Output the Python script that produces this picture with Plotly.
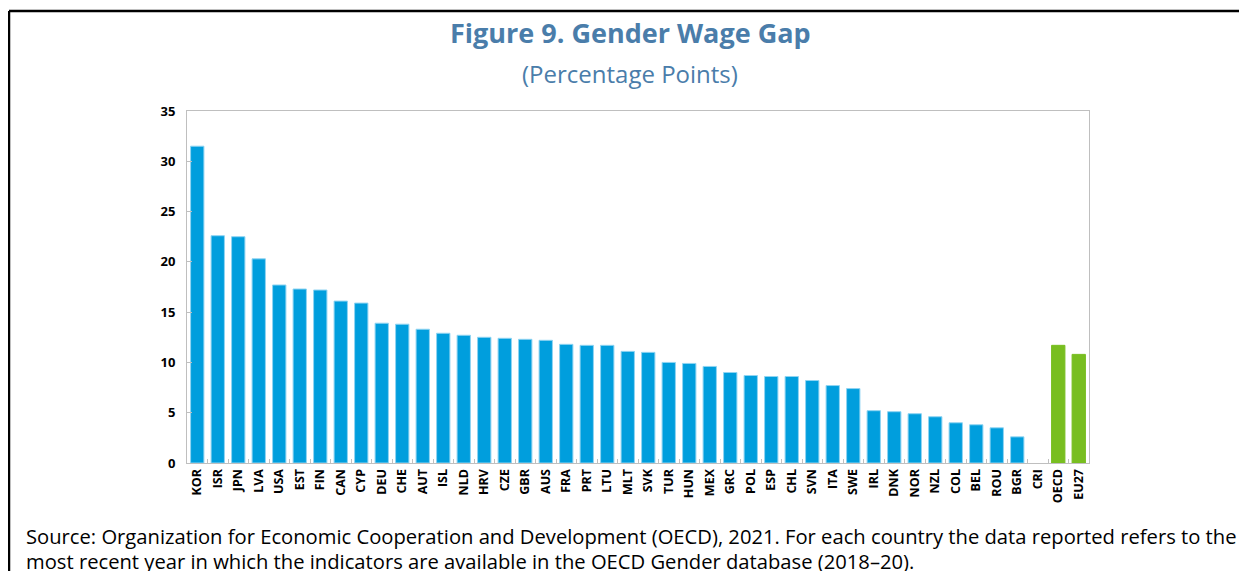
import plotly.graph_objects as go

# Datos (brecha salarial de género, puntos porcentuales)
countries = ["KOR", "ISR", "JPN", "LVA", "USA", "EST", "FIN", "CAN", "CYP", "DEU",
             "CHE", "AUT", "ISL", "NLD", "HRV", "CZE", "GBR", "AUS", "FRA", "PRT",
             "LTU", "MLT", "SVK", "TUR", "HUN", "MEX", "GRC", "POL", "ESP", "CHL",
             "SVN", "ITA", "SWE", "IRL", "DNK", "NOR", "NZL", "COL", "BEL", "ROU",
             "BGR", "CRI", "OECD", "EU27"]
wage_gap = [31.5, 22.6, 22.5, 20.3, 17.7, 17.3, 17.2, 16.1, 15.9, 13.9,
            13.8, 13.3, 12.9, 12.7, 12.5, 12.4, 12.3, 12.2, 11.8, 11.7,
            11.7, 11.1, 11.0, 10.0, 9.9, 9.6, 9.0, 8.7, 8.6, 8.6,
            8.2, 7.7, 7.4, 5.2, 5.1, 4.9, 4.6, 4.0, 3.8, 3.5,
            2.6, None, 11.7, 10.8]
aggregates = ["OECD", "EU27"]

y_ticks = [0, 5, 10, 15, 20, 25, 30, 35]

title = "Figure 9. Gender Wage Gap"
subtitle = "(Percentage Points)"
source_1 = ("Source: Organization for Economic Cooperation and Development (OECD), 2021. "
            "For each country the data reported refers to the")
source_2 = ("most recent year in which the indicators are available in the OECD Gender "
            "database (2018–20).")

BLUE = "#009EDD"
GREEN = "#78BE20"
TITLE_COLOR = "#4A7DAA"
FONT = "Open Sans"

colors = [GREEN if c in aggregates else BLUE for c in countries]
edges = ["#8FD4F2" if c not in aggregates else GREEN for c in countries]

fig = go.Figure(go.Bar(
    x=countries,
    y=wage_gap,
    marker=dict(color=colors, line=dict(color=edges, width=1)),
    hoverinfo="x+y",
))

# la página añade ~8 px de margen, se compensa aquí
OFF = 8
W, H = 1247 - OFF, 571 - OFF
L, R, T, B = 187 - OFF, 1089 - OFF, 111 - OFF, 463 - OFF


def py(ypix):
    return (B - (ypix - OFF)) / (B - T)


def px_(xpix):
    return ((xpix - OFF) - L) / (R - L)


fig.update_layout(
    width=W, height=H,
    margin=dict(l=L, r=W - R, t=T, b=H - B),
    plot_bgcolor="white", paper_bgcolor="white",
    font=dict(family=FONT, color="black"),
    bargap=0.35,
    showlegend=False,
    xaxis=dict(
        type="category",
        showline=True, linecolor="#BFBFBF", linewidth=1, mirror=True,
        ticks="inside", tickson="boundaries", ticklen=4, tickcolor="#BFBFBF",
        tickangle=-90,
        tickfont=dict(size=12.5, weight="bold", color="black"),
        showgrid=False,
    ),
    yaxis=dict(
        range=[0, 35], tickvals=y_ticks,
        showline=True, linecolor="#BFBFBF", linewidth=1, mirror=True,
        ticks="inside", ticklen=5, tickcolor="#BFBFBF",
        ticklabelstandoff=8,
        tickfont=dict(size=13, weight="bold", color="black"),
        showgrid=False, zeroline=False,
    ),
    annotations=[
        dict(text=title, x=px_(630), y=py(32), xref="paper", yref="paper",
             showarrow=False, xanchor="center", yanchor="middle",
             font=dict(size=27, color=TITLE_COLOR, weight="bold", family=FONT)),
        dict(text=subtitle, x=px_(630), y=py(73), xref="paper", yref="paper",
             showarrow=False, xanchor="center", yanchor="middle",
             font=dict(size=24, color=TITLE_COLOR, family=FONT)),
        dict(text=source_1, x=px_(24), y=py(536), xref="paper", yref="paper",
             showarrow=False, xanchor="left", yanchor="middle", align="left",
             font=dict(size=20.2, color="black", family=FONT)),
        dict(text=source_2, x=px_(24), y=py(561), xref="paper", yref="paper",
             showarrow=False, xanchor="left", yanchor="middle", align="left",
             font=dict(size=20.2, color="black", family=FONT)),
    ],
    shapes=[
        # marco negro exterior: solo los bordes superior e izquierdo son visibles
        dict(type="line", xref="paper", yref="paper",
             x0=px_(9), x1=px_(1300), y0=py(11), y1=py(11),
             line=dict(color="black", width=2.5), layer="below"),
        dict(type="line", xref="paper", yref="paper",
             x0=px_(9), x1=px_(9), y0=py(11), y1=py(700),
             line=dict(color="black", width=2.5), layer="below"),
    ],
)

fig.write_html("out.html")
